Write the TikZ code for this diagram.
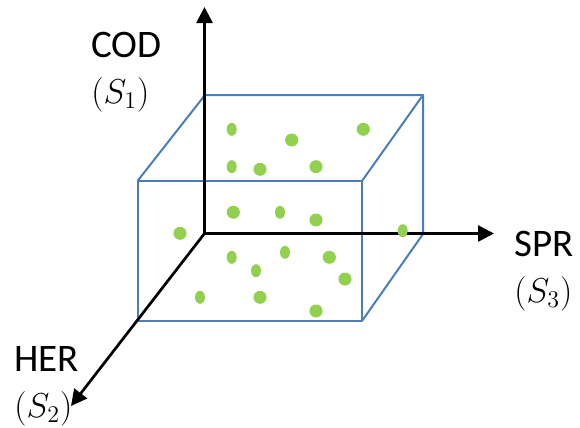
\documentclass[tikz,border=0pt]{standalone}
\usepackage{fontspec}
\setmainfont{Carlito}
\usetikzlibrary{arrows.meta}
\definecolor{BoxCol}{RGB}{74,126,187}
\definecolor{AxCol}{RGB}{0,0,0}
\definecolor{DotCol}{RGB}{146,208,80}
\tikzset{
  csaxis/.style={-{Triangle[length=8pt,width=8pt]}, line width=1.35pt, draw=AxCol},
  csbox/.style={line width=1pt, draw=BoxCol, line join=round},
  cslab/.style={font=\fontsize{19.5}{23}\selectfont, align=left, anchor=north west, inner sep=0pt},
  csdot/.style={fill=DotCol}
}
\newcommand{\CSSym}[1]{{\fontsize{17}{23}\selectfont$(S_{#1})$}}

\begin{document}
\begin{tikzpicture}[x=0.5pt,y=-0.5pt]
  \useasboundingbox (0,0) rectangle (580,428);
  % cube: back face, front face
  \coordinate (B1) at (205,95);
  \coordinate (B2) at (423,95);
  \coordinate (B3) at (423,234);
  \coordinate (F1) at (137.5,181);
  \coordinate (F2) at (362,181);
  \coordinate (F3) at (362,321);
  \coordinate (F4) at (137.5,321);
  \draw[csbox] (F1) -- (F2) -- (F3) -- (F4) -- cycle;
  \draw[csbox] (F1) -- (B1) -- (B2) -- (B3) -- (F3);
  \draw[csbox] (F2) -- (B2);
  % axes
  \coordinate (O) at (204.5,233.5);
  \coordinate (S1) at (204.5,7);
  \coordinate (S2) at (71,406);
  \coordinate (S3) at (494,233.5);
  \draw[csaxis] (O) -- (S1);
  \draw[csaxis] (O) -- (S2);
  \draw[csaxis] (O) -- (S3);
  \node[cslab] (cod) at (91,32) {COD\\\CSSym{1}};
  \node[cslab] (spr) at (514,231) {SPR\\\CSSym{3}};
  \node[cslab] (her) at (14,346) {HER\\\CSSym{2}};
  % samples
  \foreach \px/\py/\rx in {231.7/129.3/2.5, 291.7/140/3.3, 363.3/129.3/3.3,
      231.7/166.7/2.5, 260/169.3/3.3, 316/166.7/3.3,
      233.3/212.3/3.3, 280/212.3/2.5, 316/220/3.3, 180/233.3/3.3,
      231.7/257.3/2.5, 285/252.3/2.5, 329.3/257.3/3.3, 256/270.7/2.5,
      345/279/3.3, 200/297.3/2.5, 260/297.3/3.3, 316/311/3.3, 402.7/230.7/2.5}
    \fill[csdot] (\px,\py) ellipse [x radius=\rx pt, y radius=3.25pt];
\end{tikzpicture}
\end{document}
